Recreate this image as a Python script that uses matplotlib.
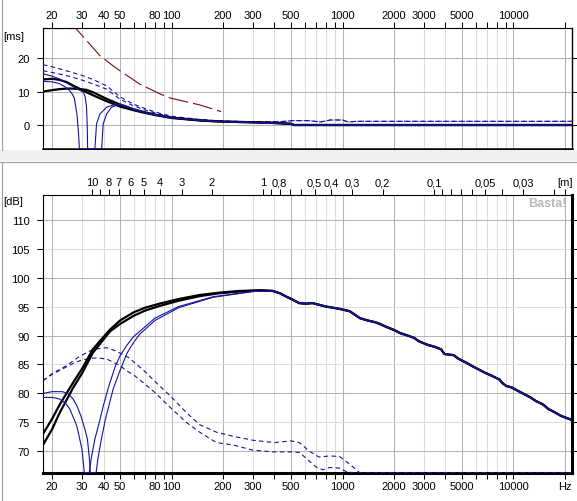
import matplotlib
matplotlib.use("Agg")
import matplotlib.pyplot as plt
from matplotlib.patches import Rectangle
from matplotlib.lines import Line2D

plt.rcParams["font.family"] = ["Liberation Sans", "DejaVu Sans"]
plt.rcParams["font.size"] = 8

# ---------------- group delay panel [ms] ----------------
gd_ref_f = [17.7, 27.6, 38.1, 45.4, 49.9, 65.2, 85.5, 99.2, 146, 195]
gd_ref_ms = [28.8, 28.8, 20.7, 17.7, 16.2, 12.2, 9.3, 8.0, 6.0, 4.0]

gd_tail_f = [250, 300, 400, 500, 520, 22000]
gd_tail_ms = [0.9, 0.8, 0.6, 0.35, 0.0, 0.0]

gd_black1_f = [17.7, 20, 22, 24.4, 27, 29, 31.8, 35, 41.7, 50, 60, 70, 80, 100, 150, 200]
gd_black1_ms = [13.6, 13.8, 13.5, 12.8, 11.6, 10.8, 9.8, 8.8, 7.1, 5.5, 4.4, 3.6, 3.0, 2.1, 1.3, 1.0]
gd_black2_f = [17.7, 20, 22, 25, 28, 31.8, 35, 41.7, 50, 60, 70, 80, 100, 150, 200]
gd_black2_ms = [10.0, 10.4, 10.7, 10.9, 10.8, 10.5, 9.7, 7.8, 6.1, 4.7, 3.8, 3.1, 2.2, 1.35, 1.0]

gd_blue1_f = [17.7, 20, 22, 24, 25, 26, 27, 28, 28.6, 28.9, 35.6, 36.4, 38.1, 41.7, 47.6,
              52, 60, 70, 80, 100, 150, 200]
gd_blue1_ms = [13.0, 12.9, 12.4, 11.3, 10.6, 9.6, 8.0, 3.0, -3.0, -7.16, -7.16, 0.3, 3.3, 5.3, 6.3,
               5.8, 4.7, 3.7, 3.1, 2.2, 1.35, 1.0]
gd_blue2_f = [17.7, 20, 22, 25, 28, 30.5, 31.2, 31.8, 32.1, 32.3, 39.0, 39.8, 41.7, 44.6, 49.9,
              55, 60, 70, 80, 100, 150, 200]
gd_blue2_ms = [15.3, 14.6, 13.8, 12.2, 10.8, 9.8, 8.5, 5.5, 0.0, -7.16, -7.16, 0.3, 3.3, 5.3, 6.3,
               5.6, 4.8, 3.7, 3.1, 2.2, 1.35, 1.0]

gd_dash_f = [17.7, 20, 25, 30, 35, 41.7, 50, 59.4, 70, 80, 100, 150, 200, 300]
gd_dash1_ms = [18.0, 17.4, 16.0, 14.8, 13.5, 11.7, 8.4, 6.3, 4.9, 3.9, 2.6, 1.6, 1.2, 1.0]
gd_dash2_ms = [16.2, 15.7, 14.6, 13.4, 12.2, 10.7, 7.7, 5.8, 4.5, 3.6, 2.4, 1.5, 1.1, 0.9]
gd_dash_tail_f = [430, 510, 640, 740, 850, 1000, 1080, 1200, 22000]
gd_dash_tail_ms = [1.0, 1.3, 1.3, 0.9, 1.5, 1.5, 0.9, 1.1, 1.1]

# ---------------- SPL panel [dB] ----------------
spl_tail_f = [430, 470, 510, 557, 610, 667, 730, 800, 880, 960, 1030, 1100, 1180, 1264, 1400,
              1550, 1653, 1800, 1985, 2182, 2400, 2617, 2800, 3140, 3500, 3773, 3950, 4200,
              4480, 4700, 4980, 5300, 5750, 6200, 6780, 7400, 8280, 8600, 9060, 9800, 10680,
              11500, 12590, 13500, 14870, 16000, 17550, 19000, 20270, 22000]
spl_tail_db = [97.3, 96.7, 96.2, 95.6, 95.5, 95.6, 95.3, 95.0, 94.8, 94.6, 94.4, 94.2, 93.6,
               93.0, 92.6, 92.3, 92.0, 91.5, 91.0, 90.4, 90.0, 89.6, 89.0, 88.4, 88.0, 87.6,
               86.8, 86.7, 86.6, 86.1, 85.7, 85.3, 84.7, 84.2, 83.6, 83.1, 82.4, 81.8, 81.3,
               81.0, 80.4, 79.9, 79.3, 78.7, 78.1, 77.3, 76.7, 76.1, 75.8, 75.4]

spl_black_f = [17.7, 20, 22.2, 26.6, 30, 34.6, 38, 43.6, 50, 60, 70, 85, 110, 146, 190, 250, 330, 390]
spl_black1_db = [73.0, 75.6, 78.1, 81.9, 84.3, 87.6, 89.0, 91.0, 92.6, 94.0, 94.8, 95.5, 96.3,
                 97.0, 97.4, 97.7, 97.8, 97.7]
spl_black2_db = [71.1, 73.8, 76.7, 81.0, 83.5, 87.0, 88.5, 90.7, 92.0, 93.4, 94.3, 95.1, 96.0,
                 96.8, 97.3, 97.6, 97.8, 97.7]

spl_blue1_f = [17.7, 20, 21, 22.2, 24, 25.4, 27.9, 29.9, 30.9, 33.0, 34, 35.6, 38, 40, 43, 47,
               50, 55, 60, 65, 80, 110, 175, 300, 390]
spl_blue1_db = [79.3, 79.3, 79.2, 79.0, 78.3, 77.3, 74.4, 70.4, 66.3, 66.3, 69.0, 72.1, 75.3,
                78.0, 81.3, 84.8, 86.5, 88.4, 89.8, 90.7, 93.0, 95.0, 96.7, 97.6, 97.7]
spl_blue2_f = [17.7, 20, 23, 25, 26.6, 28, 29.5, 31, 32.2, 33.0, 33.5, 36.2, 37, 38.5, 41, 45.6,
               50, 55, 60, 65, 80, 110, 175, 300, 390]
spl_blue2_db = [80.0, 80.3, 80.3, 79.9, 79.0, 77.8, 76.1, 74.0, 72.1, 69.0, 66.3, 66.3, 68.5,
                71.5, 75.5, 80.8, 84.0, 87.0, 88.8, 90.2, 92.6, 94.8, 96.6, 97.6, 97.7]

spl_dash1_f = [17.7, 20, 24, 29, 34.7, 41.7, 47.6, 56, 68, 81, 98, 122, 146, 183, 229, 300, 400,
               500, 560, 640, 730, 840, 960, 1100, 1260, 22000]
spl_dash1_db = [82.2, 83.4, 84.7, 86.4, 87.6, 87.9, 87.3, 86.2, 84.1, 81.9, 79.6, 76.7, 74.6,
                73.3, 72.6, 71.9, 71.5, 71.8, 71.5, 70.0, 69.0, 69.2, 69.1, 67.8, 66.3, 66.3]
spl_dash2_f = [17.7, 20, 24, 27, 30, 34.6, 38, 42, 50, 54.5, 60, 68, 81, 98, 122, 146, 183, 229,
               298, 390, 500, 560, 612, 700, 766, 840, 960, 1050, 1150, 22000]
spl_dash2_db = [82.2, 83.3, 84.5, 85.3, 85.8, 86.1, 86.1, 85.9, 84.8, 83.9, 83.2, 81.9, 80.0,
                77.6, 75.0, 73.3, 71.5, 71.1, 70.2, 69.9, 69.9, 69.8, 68.8, 67.3, 66.8, 67.2,
                67.1, 66.5, 66.3, 66.3]

# axis ticks and labels
freq_ticks = [d * 10 ** k for k in (1, 2, 3) for d in range(1, 10)] + [10000, 20000]
freq_ticks = [f for f in freq_ticks if f >= 20]
freq_labels = {20: "20", 30: "30", 40: "40", 50: "50", 80: "80", 100: "100", 200: "200",
               300: "300", 500: "500", 1000: "1000", 2000: "2000", 3000: "3000",
               5000: "5000", 10000: "10000"}
wl_ticks = [10, 9, 8, 7, 6, 5, 4, 3, 2, 1, 0.9, 0.8, 0.7, 0.6, 0.5, 0.4, 0.3, 0.2,
            0.1, 0.09, 0.08, 0.07, 0.06, 0.05, 0.04, 0.03, 0.02]
wl_labels = {10: "10", 8: "8", 7: "7", 6: "6", 5: "5", 4: "4", 3: "3", 2: "2", 1: "1",
             0.8: "0,8", 0.5: "0,5", 0.4: "0,4", 0.3: "0,3", 0.2: "0,2", 0.1: "0,1",
             0.05: "0,05", 0.03: "0,03"}
SOUND_SPEED = 343.0

BLUE = "#1414a0"
RED = "#7a0a0a"
GRID_MAJOR = "#b4b4b4"
GRID_MINOR = "#dcdcdc"

W, H = 577, 502
fig = plt.figure(figsize=(W / 100, H / 100), dpi=100)
fig.patch.set_facecolor("white")


def box(l, t, r, b):
    return [l / W, 1 - b / H, (r - l) / W, (b - t) / H]


# window decorations
fig.add_artist(Rectangle((0, 1 - 162 / H), 1, 11 / H, transform=fig.transFigure,
                         facecolor="#f0f0f0", edgecolor="none"))
fig.add_artist(Line2D([0, 1], [1 - 162.5 / H] * 2, transform=fig.transFigure,
                      color="#a0a0a0", lw=0.8))
fig.add_artist(Line2D([1.5 / W] * 2, [1 - 151 / H, 1], transform=fig.transFigure,
                      color="#a0a0a0", lw=0.8))
fig.add_artist(Line2D([1.5 / W] * 2, [0, 1 - 163 / H], transform=fig.transFigure,
                      color="#a0a0a0", lw=0.8))

ax_gd = fig.add_axes(box(43, 29, 572, 150))
ax_spl = fig.add_axes(box(43, 196, 572, 474))


def freq_grid(ax):
    for f in freq_ticks:
        major = str(int(f))[0] in "125"
        ax.axvline(f, color=GRID_MAJOR if major else GRID_MINOR, lw=0.75, zorder=0)


def style_freq_axis(ax, top):
    ax.set_xscale("log")
    ax.set_xlim(17.7, 22000)
    ax.set_xticks(freq_ticks)
    ax.set_xticks([], minor=True)
    labels = [freq_labels.get(f, "") for f in freq_ticks]
    if not top:
        labels[-1] = "Hz"
    ax.set_xticklabels(labels)
    ax.tick_params(axis="x", which="major", direction="out", length=4, width=0.75,
                   top=top, labeltop=top, bottom=not top, labelbottom=not top,
                   pad=1.5)
    ax.tick_params(axis="y", which="major", direction="out", length=4.5, width=0.75,
                   left=True, right=True, labelleft=True, labelright=False, pad=5)


# ---- upper panel: group delay ----
ax = ax_gd
freq_grid(ax)
for v in (20, 10, 0):
    ax.axhline(v, color=GRID_MAJOR, lw=0.75, zorder=0)
ax.plot(gd_ref_f, gd_ref_ms, color=RED, lw=0.8, dashes=(18, 4.5), zorder=2)
for ms in (gd_dash1_ms, gd_dash2_ms):
    ax.plot(gd_dash_f + gd_dash_tail_f, ms + gd_dash_tail_ms, color=BLUE, lw=0.8,
            dashes=(4, 3), zorder=3)
for f, ms in ((gd_black1_f, gd_black1_ms), (gd_black2_f, gd_black2_ms)):
    ax.plot(f + gd_tail_f, ms + gd_tail_ms, color="black", lw=1.6, zorder=4)
for f, ms in ((gd_blue1_f, gd_blue1_ms), (gd_blue2_f, gd_blue2_ms)):
    ax.plot(f + gd_tail_f, ms + gd_tail_ms, color=BLUE, lw=0.8, zorder=5)
style_freq_axis(ax, top=True)
ax.set_ylim(-7.16, 28.96)
ax.set_yticks([0, 10, 20])
for side, lw in (("left", 0.8), ("top", 0.8), ("right", 1.0), ("bottom", 1.8)):
    ax.spines[side].set_linewidth(lw)
fig.text(3 / W, 1 - 37 / H, "[ms]", ha="left", va="center")

# ---- lower panel: SPL ----
ax = ax_spl
freq_grid(ax)
for v in range(70, 115, 5):
    ax.axhline(v, color=GRID_MAJOR if v % 10 == 0 else GRID_MINOR, lw=0.75, zorder=0)
for db in (spl_dash1_db, spl_dash2_db):
    f = spl_dash1_f if db is spl_dash1_db else spl_dash2_f
    ax.plot(f, db, color=BLUE, lw=0.8, dashes=(4, 3), zorder=3)
for db in (spl_black1_db, spl_black2_db):
    ax.plot(spl_black_f + spl_tail_f, db + spl_tail_db, color="black", lw=1.6, zorder=4)
for f, db in ((spl_blue1_f, spl_blue1_db), (spl_blue2_f, spl_blue2_db)):
    ax.plot(f + spl_tail_f, db + spl_tail_db, color=BLUE, lw=0.8, zorder=5)
style_freq_axis(ax, top=False)
ax.set_ylim(66.25, 114.27)
ax.set_yticks(range(70, 115, 5))
for side, lw in (("left", 0.8), ("top", 0.8), ("right", 2.2), ("bottom", 2.2)):
    ax.spines[side].set_linewidth(lw)
fig.text(3 / W, 1 - 202 / H, "[dB]", ha="left", va="center")
ax.text(0.989, 0.993, "Basta!", transform=ax.transAxes, ha="right", va="top",
        color="#b8b8b8", fontsize=9, fontweight="bold")

# wavelength scale on top of the SPL panel
ax_wl = ax.twiny()
ax_wl.set_xscale("log")
ax_wl.set_xlim(ax.get_xlim())
wl_pos = [SOUND_SPEED / m for m in wl_ticks] + [20000]
wl_text = [wl_labels.get(m, "") for m in wl_ticks] + ["[m]"]
ax_wl.set_xticks(wl_pos)
ax_wl.set_xticks([], minor=True)
ax_wl.set_xticklabels(wl_text)
ax_wl.tick_params(axis="x", direction="out", length=4, width=0.75, pad=1.5)
for s in ax_wl.spines.values():
    s.set_visible(False)

fig.savefig("out.png", dpi=100, facecolor="white")
